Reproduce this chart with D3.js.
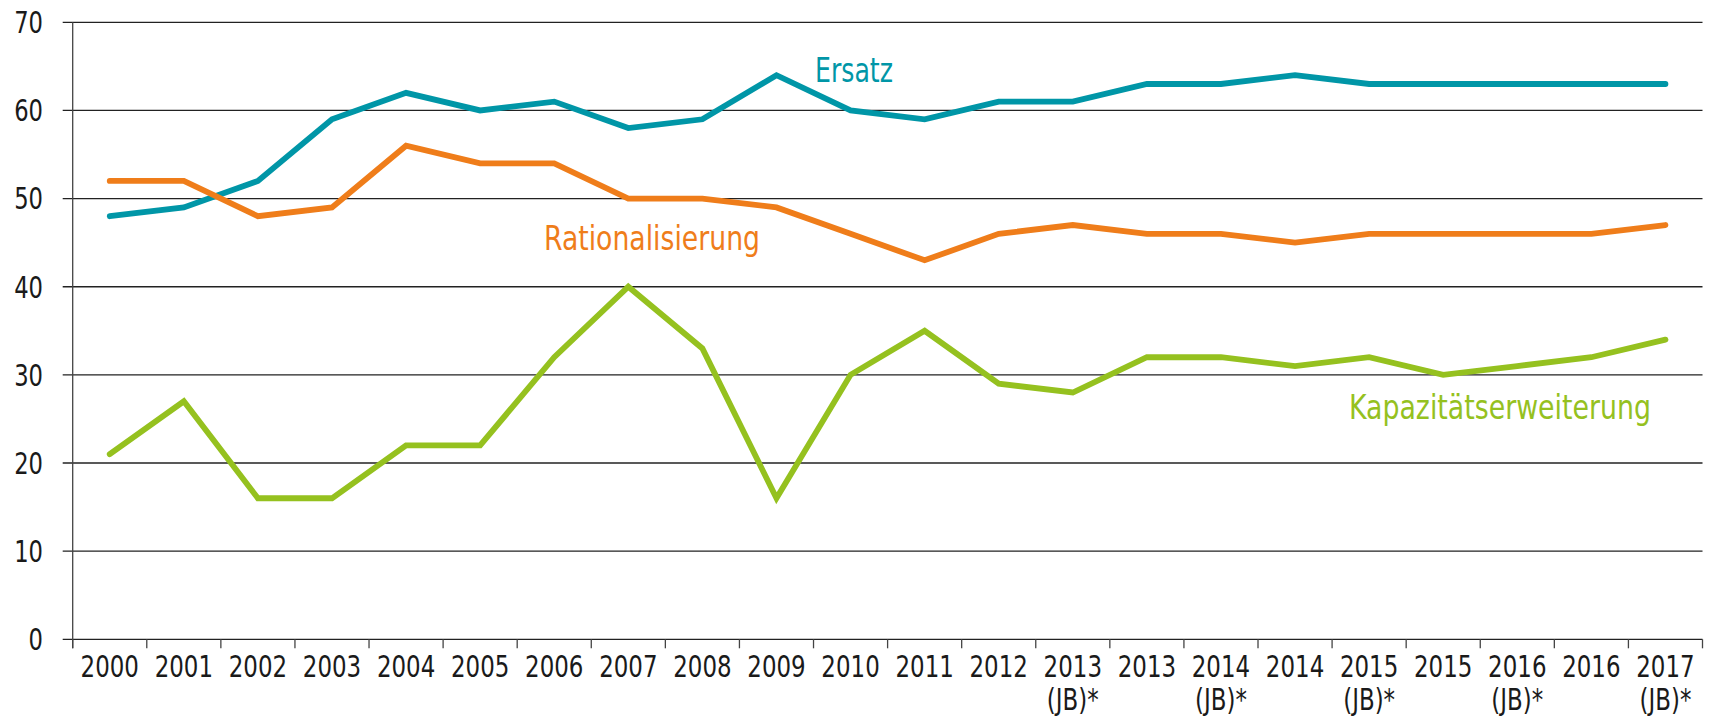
<!DOCTYPE html>
<html>
<head>
<meta charset="utf-8">
<script src="https://cdn.jsdelivr.net/npm/d3@7"></script>
<style>
  html, body { margin: 0; padding: 0; background: #fff; }
  svg { display: block; }
  text { font-family: "Liberation Sans Narrow", "DejaVu Sans Condensed", "Arial Narrow", sans-serif; }
</style>
</head>
<body>
<svg id="chart" width="1712" height="722"></svg>
<script>
const categories = ["2000","2001","2002","2003","2004","2005","2006","2007","2008","2009","2010","2011","2012",
  "2013\n(JB)*","2013","2014\n(JB)*","2014","2015\n(JB)*","2015","2016\n(JB)*","2016","2017\n(JB)*"];
const ersatz = [48,49,52,59,62,60,61,58,59,64,60,59,61,61,63,63,64,63,63,63,63,63];
const rationalisierung = [52,52,48,49,56,54,54,50,50,49,46,43,46,47,46,46,45,46,46,46,46,47];
const kapazitaet = [21,27,16,16,22,22,32,40,33,16,30,35,29,28,32,32,31,32,30,31,32,34];
const yTicks = [0,10,20,30,40,50,60,70];
const seriesNames = ["Ersatz","Rationalisierung","Kapazitätserweiterung"];
const colors = ["#0096A7","#EF7D1A","#95C11F"];

const svg = d3.select("#chart");
const mLeft = 72.7, mRight = 1702.5, mTop = 22.3, mBottom = 639.3;

const x = d3.scaleBand().domain(categories.map((c,i)=>i)).range([mLeft, mRight]).padding(0);
const y = d3.scaleLinear().domain([0,70]).range([mBottom, mTop]);

function narrow(sel, factor) {
  sel.each(function() {
    const w = this.getComputedTextLength();
    d3.select(this).attr("textLength", w * factor).attr("lengthAdjust", "spacingAndGlyphs");
  });
}

// gridlines
svg.append("g").selectAll("line").data(yTicks).join("line")
  .attr("x1", mLeft - 10).attr("x2", mRight)
  .attr("y1", d => y(d)).attr("y2", d => y(d))
  .attr("stroke", "#222").attr("stroke-width", 1.3);

// y axis vertical line
svg.append("line").attr("x1", mLeft).attr("x2", mLeft)
  .attr("y1", y(70)).attr("y2", mBottom + 9)
  .attr("stroke", "#444").attr("stroke-width", 1.3);

// y labels
const yl = svg.append("g").selectAll("text").data(yTicks).join("text")
  .attr("x", 43).attr("y", d => y(d)).attr("dy", "0.36em")
  .attr("text-anchor", "end").attr("font-size", 30).attr("fill", "#1a1a1a")
  .text(d => d);
narrow(yl, 0.84);

// x ticks
const tickXs = categories.map((c,i)=>x(i)).concat([mRight]);
svg.append("g").selectAll("line").data(tickXs).join("line")
  .attr("x1", d => d).attr("x2", d => d)
  .attr("y1", mBottom).attr("y2", mBottom + 9)
  .attr("stroke", "#444").attr("stroke-width", 1.3);

// x labels
const xl = svg.append("g").selectAll("text").data(categories).join("text")
  .attr("x", (d,i) => x(i) + x.bandwidth()/2)
  .attr("y", 677)
  .attr("text-anchor", "middle").attr("font-size", 30).attr("fill", "#1a1a1a");
xl.each(function(d) {
  const parts = d.split("\n");
  const t = d3.select(this);
  parts.forEach((p, k) => {
    t.append("text").remove();
    t.append("tspan").attr("x", t.attr("x")).attr("dy", k === 0 ? 0 : 33).text(p);
  });
});
xl.selectAll("tspan").each(function() {
  const w = this.getComputedTextLength();
  d3.select(this).attr("textLength", w * 0.85).attr("lengthAdjust", "spacingAndGlyphs");
});

// lines
const line = d3.line().x((d,i) => x(i) + x.bandwidth()/2).y(d => y(d));
[ersatz, rationalisierung, kapazitaet].forEach((s, k) => {
  svg.append("path").datum(s).attr("d", line)
    .attr("fill", "none").attr("stroke", colors[k]).attr("stroke-width", 5.8)
    .attr("stroke-linejoin", "miter").attr("stroke-linecap", "round");
});

// series labels
const labelPos = [[815, 81.7, 78], [544, 250, 216], [1349, 419, 302]];
svg.append("g").selectAll("text").data(seriesNames).join("text")
  .attr("x", (d,i) => labelPos[i][0]).attr("y", (d,i) => labelPos[i][1])
  .attr("textLength", (d,i) => labelPos[i][2]).attr("lengthAdjust", "spacingAndGlyphs")
  .attr("text-anchor", "start").attr("font-size", 33)
  .attr("fill", (d,i) => colors[i])
  .text(d => d);
</script>
</body>
</html>
